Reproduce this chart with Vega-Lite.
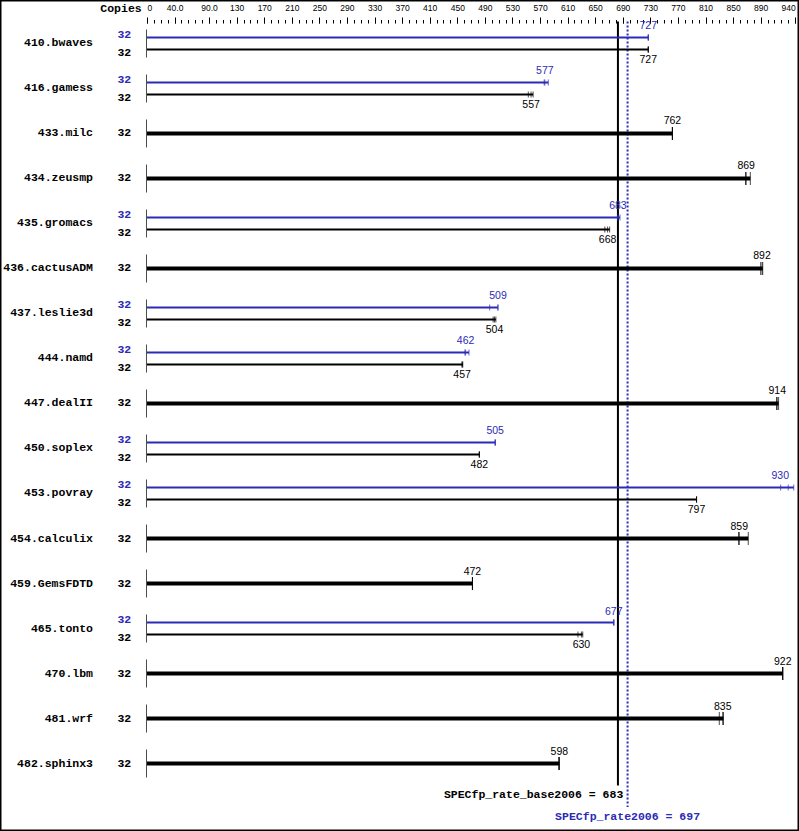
{
 "$schema": "https://vega.github.io/schema/vega-lite/v6.json",
 "width": 799, "height": 831, "autosize": "none", "padding": 0,
 "background": "white",
 "config": {"view": {"stroke": "black", "strokeWidth": 3}, "axis": {"grid": false}},
 "datasets": {
  "bars": [
   {"bench":"410.bwaves","kind":"peak","copies":32,"score":727,"hi":727,"r1":727,"r2":727,"r3":727},
   {"bench":"410.bwaves","kind":"base","copies":32,"score":727,"hi":727,"r1":727,"r2":727,"r3":727},
   {"bench":"416.gamess","kind":"peak","copies":32,"score":577,"hi":582,"r1":576,"r2":577,"r3":582},
   {"bench":"416.gamess","kind":"base","copies":32,"score":557,"hi":560,"r1":553,"r2":557,"r3":560},
   {"bench":"433.milc","kind":"single","copies":32,"score":762,"hi":762,"r1":762,"r2":762,"r3":762},
   {"bench":"434.zeusmp","kind":"single","copies":32,"score":869,"hi":875,"r1":868,"r2":869,"r3":875},
   {"bench":"435.gromacs","kind":"peak","copies":32,"score":683,"hi":686,"r1":683,"r2":683,"r3":686},
   {"bench":"435.gromacs","kind":"base","copies":32,"score":668,"hi":671,"r1":664,"r2":668,"r3":671},
   {"bench":"436.cactusADM","kind":"single","copies":32,"score":892,"hi":893,"r1":890,"r2":892,"r3":893},
   {"bench":"437.leslie3d","kind":"peak","copies":32,"score":509,"hi":509,"r1":497,"r2":509,"r3":509},
   {"bench":"437.leslie3d","kind":"base","copies":32,"score":504,"hi":506,"r1":502,"r2":504,"r3":506},
   {"bench":"444.namd","kind":"peak","copies":32,"score":462,"hi":467,"r1":461,"r2":462,"r3":467},
   {"bench":"444.namd","kind":"base","copies":32,"score":457,"hi":458,"r1":457,"r2":457,"r3":458},
   {"bench":"447.dealII","kind":"single","copies":32,"score":914,"hi":916,"r1":913,"r2":914,"r3":916},
   {"bench":"450.soplex","kind":"peak","copies":32,"score":505,"hi":505,"r1":505,"r2":505,"r3":505},
   {"bench":"450.soplex","kind":"base","copies":32,"score":482,"hi":482,"r1":482,"r2":482,"r3":482},
   {"bench":"453.povray","kind":"peak","copies":32,"score":930,"hi":938,"r1":919,"r2":930,"r3":938},
   {"bench":"453.povray","kind":"base","copies":32,"score":797,"hi":797,"r1":797,"r2":797,"r3":797},
   {"bench":"454.calculix","kind":"single","copies":32,"score":859,"hi":872,"r1":858,"r2":859,"r3":872},
   {"bench":"459.GemsFDTD","kind":"single","copies":32,"score":472,"hi":472,"r1":472,"r2":472,"r3":472},
   {"bench":"465.tonto","kind":"peak","copies":32,"score":677,"hi":677,"r1":677,"r2":677,"r3":677},
   {"bench":"465.tonto","kind":"base","copies":32,"score":630,"hi":632,"r1":625,"r2":630,"r3":632},
   {"bench":"470.lbm","kind":"single","copies":32,"score":922,"hi":922,"r1":922,"r2":922,"r3":922},
   {"bench":"481.wrf","kind":"single","copies":32,"score":835,"hi":836,"r1":830,"r2":835,"r3":836},
   {"bench":"482.sphinx3","kind":"single","copies":32,"score":598,"hi":598,"r1":597,"r2":598,"r3":598}
  ],
  "totals": [
   {"label":"SPECfp_rate_base2006 = 683","v":683,"kind":"base"},
   {"label":"SPECfp_rate2006 = 697","v":697,"kind":"peak"}
  ]
 },
 "resolve": {"axis": {"x": "independent"}},
 "layer": [
  {
   "data": {"name": "totals"},
   "transform": [{"filter": "datum.kind == 'base'"}],
   "mark": {"type": "rule", "color": "black", "strokeWidth": 2, "yOffset": -22, "y2Offset": 22},
   "encoding": {
    "x": {"field": "v", "type": "quantitative", "axis": null, "scale": {"domain": [-213.2, 945.6], "nice": false, "zero": false}},
    "y": {"datum": "410.bwaves", "type": "nominal", "axis": null, "scale": {"type": "band", "domain": ["410.bwaves","416.gamess","433.milc","434.zeusmp","435.gromacs","436.cactusADM","437.leslie3d","444.namd","447.dealII","450.soplex","453.povray","454.calculix","459.GemsFDTD","465.tonto","470.lbm","481.wrf","482.sphinx3"], "paddingInner": 0, "paddingOuter": 0.73333, "align": 0.31818, "round": false}},
    "y2": {"datum": "482.sphinx3"}
   }
  },
  {
   "data": {"name": "totals"},
   "transform": [{"filter": "datum.kind == 'peak'"}],
   "mark": {"type": "rule", "color": "#2b2bb5", "strokeWidth": 2, "strokeDash": [2, 2], "yOffset": -22, "y2Offset": 43.5},
   "encoding": {
    "x": {"field": "v", "type": "quantitative", "axis": null},
    "y": {"datum": "410.bwaves", "type": "nominal", "axis": null},
    "y2": {"datum": "482.sphinx3"}
   }
  },
  {
   "data": {"name": "bars"},
   "transform": [{"filter": "datum.kind != 'base'"}],
   "mark": {"type": "tick", "orient": "vertical", "size": 28, "thickness": 1, "color": "black", "xOffset": -0.5},
   "encoding": {
    "x": {"datum": 0, "type": "quantitative", "axis": null},
    "y": {"field": "bench", "type": "nominal", "axis": null}
   }
  },
  {
   "data": {"name": "bars"},
   "transform": [{"filter": "datum.kind == 'peak'"}],
   "mark": {"type": "rule", "color": "#2b2bb5", "strokeWidth": 2, "yOffset": -6},
   "encoding": {
    "x": {"field": "hi", "type": "quantitative",
     "axis": {"orient": "top", "offset": -23, "values": [0,40,90,130,170,210,250,290,330,370,410,450,490,530,570,610,650,690,730,770,810,850,890,940],
      "tickSize": 6, "tickColor": "black", "tickWidth": 1, "domain": false, "title": null, "grid": false,
      "labelFont": "Liberation Sans", "labelFontSize": 8.5, "labelColor": "black", "labelPadding": 7, "labelBaseline": "alphabetic",
      "labelAlign": {"condition": [{"test": "datum.value == 0", "value": "left"}, {"test": "datum.value == 940", "value": "right"}], "value": "center"},
      "labelExpr": "datum.value == 40 ? '40.0' : datum.value == 90 ? '90.0' : format(datum.value, 'd')",
      "labelOverlap": false, "labelBound": false, "labelFlush": false}},
    "x2": {"datum": 0},
    "y": {"field": "bench", "type": "nominal", "axis": null}
   }
  },
  {
   "data": {"name": "bars"},
   "transform": [{"filter": "datum.kind == 'base'"}],
   "mark": {"type": "rule", "color": "black", "strokeWidth": 2, "yOffset": 6},
   "encoding": {
    "x": {"field": "hi", "type": "quantitative",
     "axis": {"orient": "top", "offset": -23, "values": [0,10,20,30,40,50,60,70,80,90,100,110,120,130,140,150,160,170,180,190,200,210,220,230,240,250,260,270,280,290,300,310,320,330,340,350,360,370,380,390,400,410,420,430,440,450,460,470,480,490,500,510,520,530,540,550,560,570,580,590,600,610,620,630,640,650,660,670,680,690,700,710,720,730,740,750,760,770,780,790,800,810,820,830,840,850,860,870,880,890,900,910,920,930,940],
      "tickSize": 3.5, "tickColor": "black", "tickWidth": 1, "labels": false, "domain": false, "title": null, "grid": false}},
    "x2": {"datum": 0},
    "y": {"field": "bench", "type": "nominal", "axis": null}
   }
  },
  {
   "data": {"name": "bars"},
   "transform": [{"filter": "datum.kind == 'single'"}],
   "mark": {"type": "rule", "color": "black", "strokeWidth": 4},
   "encoding": {
    "x": {"field": "hi", "type": "quantitative", "axis": null},
    "x2": {"datum": 0},
    "y": {"field": "bench", "type": "nominal", "axis": null}
   }
  },
  {
   "data": {"name": "bars"},
   "transform": [{"filter": "datum.kind == 'peak'"}, {"fold": ["r1", "r2", "r3"], "as": ["run", "val"]}],
   "mark": {"type": "tick", "orient": "vertical", "size": 6, "thickness": 1, "color": "#2b2bb5", "yOffset": -6},
   "encoding": {
    "x": {"field": "val", "type": "quantitative", "axis": null},
    "y": {"field": "bench", "type": "nominal", "axis": null}
   }
  },
  {
   "data": {"name": "bars"},
   "transform": [{"filter": "datum.kind == 'base'"}, {"fold": ["r1", "r2", "r3"], "as": ["run", "val"]}],
   "mark": {"type": "tick", "orient": "vertical", "size": 6, "thickness": 1, "color": "black", "yOffset": 6},
   "encoding": {
    "x": {"field": "val", "type": "quantitative", "axis": null},
    "y": {"field": "bench", "type": "nominal", "axis": null}
   }
  },
  {
   "data": {"name": "bars"},
   "transform": [{"filter": "datum.kind == 'single'"}, {"fold": ["r1", "r2", "r3"], "as": ["run", "val"]}],
   "mark": {"type": "tick", "orient": "vertical", "size": 13, "thickness": 1, "color": "black"},
   "encoding": {
    "x": {"field": "val", "type": "quantitative", "axis": null},
    "y": {"field": "bench", "type": "nominal", "axis": null}
   }
  },
  {
   "data": {"name": "bars"},
   "transform": [{"filter": "datum.kind == 'peak' && datum.score < 900"}],
   "mark": {"type": "text", "font": "Liberation Sans", "fontSize": 10.5, "color": "#2b2bb5", "align": "center", "baseline": "middle", "dy": -17},
   "encoding": {
    "x": {"field": "score", "type": "quantitative", "axis": null},
    "y": {"field": "bench", "type": "nominal", "axis": null},
    "text": {"field": "score", "type": "quantitative", "format": "d"}
   }
  },
  {
   "data": {"name": "bars"},
   "transform": [{"filter": "datum.kind == 'peak' && datum.score >= 900"}],
   "mark": {"type": "text", "font": "Liberation Sans", "fontSize": 10.5, "color": "#2b2bb5", "align": "center", "baseline": "middle", "dy": -17, "dx": -8},
   "encoding": {
    "x": {"field": "score", "type": "quantitative", "axis": null},
    "y": {"field": "bench", "type": "nominal", "axis": null},
    "text": {"field": "score", "type": "quantitative", "format": "d"}
   }
  },
  {
   "data": {"name": "bars"},
   "transform": [{"filter": "datum.kind == 'base'"}],
   "mark": {"type": "text", "font": "Liberation Sans", "fontSize": 10.5, "color": "black", "align": "center", "baseline": "middle", "dy": 16.5},
   "encoding": {
    "x": {"field": "score", "type": "quantitative", "axis": null},
    "y": {"field": "bench", "type": "nominal", "axis": null},
    "text": {"field": "score", "type": "quantitative", "format": "d"}
   }
  },
  {
   "data": {"name": "bars"},
   "transform": [{"filter": "datum.kind == 'single'"}],
   "mark": {"type": "text", "font": "Liberation Sans", "fontSize": 10.5, "color": "black", "align": "center", "baseline": "middle", "dy": -12},
   "encoding": {
    "x": {"field": "score", "type": "quantitative", "axis": null},
    "y": {"field": "bench", "type": "nominal", "axis": null},
    "text": {"field": "score", "type": "quantitative", "format": "d"}
   }
  },
  {
   "data": {"name": "bars"},
   "transform": [{"filter": "datum.kind != 'base'"}],
   "mark": {"type": "text", "font": "Liberation Mono", "fontWeight": "bold", "fontSize": 11.5, "color": "black", "align": "right", "baseline": "middle"},
   "encoding": {
    "x": {"datum": -78.3, "type": "quantitative", "axis": null},
    "y": {"field": "bench", "type": "nominal", "axis": null},
    "text": {"field": "bench", "type": "nominal"}
   }
  },
  {
   "data": {"name": "bars"},
   "transform": [{"filter": "datum.kind == 'peak'"}],
   "mark": {"type": "text", "font": "Liberation Mono", "fontWeight": "bold", "fontSize": 11.5, "color": "#2b2bb5", "align": "center", "baseline": "middle", "dy": -8.5},
   "encoding": {
    "x": {"datum": -32.9, "type": "quantitative", "axis": null},
    "y": {"field": "bench", "type": "nominal", "axis": null},
    "text": {"field": "copies", "type": "quantitative", "format": "d"}
   }
  },
  {
   "data": {"name": "bars"},
   "transform": [{"filter": "datum.kind == 'base'"}],
   "mark": {"type": "text", "font": "Liberation Mono", "fontWeight": "bold", "fontSize": 11.5, "color": "black", "align": "center", "baseline": "middle", "dy": 9.5},
   "encoding": {
    "x": {"datum": -32.9, "type": "quantitative", "axis": null},
    "y": {"field": "bench", "type": "nominal", "axis": null},
    "text": {"field": "copies", "type": "quantitative", "format": "d"}
   }
  },
  {
   "data": {"name": "bars"},
   "transform": [{"filter": "datum.kind == 'single'"}],
   "mark": {"type": "text", "font": "Liberation Mono", "fontWeight": "bold", "fontSize": 11.5, "color": "black", "align": "center", "baseline": "middle"},
   "encoding": {
    "x": {"datum": -32.9, "type": "quantitative", "axis": null},
    "y": {"field": "bench", "type": "nominal", "axis": null},
    "text": {"field": "copies", "type": "quantitative", "format": "d"}
   }
  },
  {
   "data": {"values": [{"label": "Copies"}]},
   "mark": {"type": "text", "font": "Liberation Mono", "fontWeight": "bold", "fontSize": 11.5, "color": "black", "align": "right", "baseline": "middle", "dy": -34.5},
   "encoding": {
    "x": {"datum": -7.7, "type": "quantitative", "axis": null},
    "y": {"datum": "410.bwaves", "type": "nominal", "axis": null},
    "text": {"field": "label", "type": "nominal"}
   }
  },
  {
   "data": {"name": "totals"},
   "transform": [{"filter": "datum.kind == 'base'"}],
   "mark": {"type": "text", "font": "Liberation Mono", "fontWeight": "bold", "fontSize": 11.5, "color": "black", "align": "right", "baseline": "middle", "dx": 5.4, "dy": 31.5},
   "encoding": {
    "x": {"field": "v", "type": "quantitative", "axis": null},
    "y": {"datum": "482.sphinx3", "type": "nominal", "axis": null},
    "text": {"field": "label", "type": "nominal"}
   }
  },
  {
   "data": {"name": "totals"},
   "transform": [{"filter": "datum.kind == 'peak'"}],
   "mark": {"type": "text", "font": "Liberation Mono", "fontWeight": "bold", "fontSize": 11.5, "color": "#2b2bb5", "align": "center", "baseline": "middle", "dy": 53},
   "encoding": {
    "x": {"field": "v", "type": "quantitative", "axis": null},
    "y": {"datum": "482.sphinx3", "type": "nominal", "axis": null},
    "text": {"field": "label", "type": "nominal"}
   }
  }
 ]
}
